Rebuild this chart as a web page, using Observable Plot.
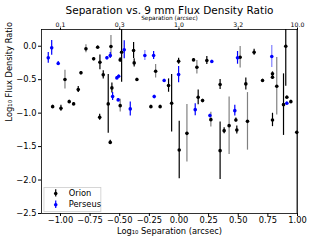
<!DOCTYPE html>
<html><head><meta charset="utf-8">
<script src="https://cdn.jsdelivr.net/npm/d3@7"></script>
<script src="https://cdn.jsdelivr.net/npm/@observablehq/plot@0.6"></script>
<style>body{margin:0;background:#fff}svg{display:block}</style>
</head><body><div id="chart"></div>
<script>
const orionX = [-1.066,-0.996,-0.962,-0.926,-0.889,-0.850,-0.827,-0.785,-0.720,-0.686,-0.669,-0.667,-0.639,-0.597,-0.574,-0.566,-0.496,-0.496,-0.484,-0.580,-0.383,-0.378,-0.355,-0.197,-0.237,-0.159,-0.088,-0.062,-0.003,0.002,0.067,0.123,0.151,0.162,0.199,0.235,0.347,0.269,0.347,0.516,0.634,0.789,0.789,0.825,0.901,0.705,0.564,0.910,0.944,0.882,0.480,0.381,0.423,0.488,0.578,0.789,0.994];
const orionY = [-0.903,-0.928,-0.498,-0.828,-0.862,-0.648,-0.398,-0.039,-0.189,-0.015,-1.063,-0.240,-0.428,-0.862,-0.004,-0.623,-0.888,-0.204,-0.090,-1.437,-0.064,-0.249,-0.498,-0.374,-0.903,-0.903,-0.588,-0.853,-0.225,-1.551,-1.302,-0.204,-0.314,-0.763,-0.813,-0.214,-0.573,-1.097,-1.561,-0.165,-0.090,-0.413,-0.464,-0.599,0.0,-0.513,-0.563,-0.763,-0.828,-0.873,-1.102,-1.262,-1.187,-1.251,-1.123,-1.102,-1.287];
const orionErr = [0.02,0.045,0.14,0.02,0.02,0.045,0.02,0.06,0.02,0.02,0.045,0.11,0.06,0.44,0.165,0.075,0.095,0.03,0.45,0.03,0.12,0.06,0.02,0.10,0.02,0.02,0.10,0.43,0.045,0.43,0.43,0.02,0.10,0.11,0.02,0.06,0.075,0.11,0.43,0.16,0.045,0.03,0.03,0.43,0.6,0.02,0.09,0.02,0.02,0.46,0.03,0.045,0.43,0.06,0.43,0.1,2.0];
const orionFaint = [0,0,1,0,0,0,0,1,0,0,0,0,0,0,1,0,1,0,0,0,0,0,0,1,0,0,0,0,0,0,1,0,1,0,0,0,0,1,0,1,0,0,0,1,0,0,0,0,0,0,0,0,1,0,1,0,1];
const perseusX = [-1.103,-1.074,-1.019,-0.608,-0.580,-0.524,-0.509,-0.560,-0.513,-0.462,-0.288,-0.214,-0.411,-0.125,-0.209,-0.003,0.277,0.137,0.261,0.494,0.783,0.471,0.910];
const perseusY = [-0.174,-0.024,-0.259,-0.174,-0.139,-0.473,-0.449,-0.753,-0.802,-0.054,-0.139,-0.139,-0.937,-0.513,-0.753,-0.424,-0.229,-0.948,-1.037,-0.174,-0.154,-0.963,-0.853];
const perseusErr = [0.08,0.11,0.03,0.02,0.045,0.02,0.02,0.06,0.02,0.135,0.075,0.06,0.105,0.02,0.02,0.12,0.02,0.09,0.02,0.095,0.165,0.08,0.02];
const perseusFaint = [0,0,0,0,0,0,0,0,0,0,1,0,0,0,0,0,0,0,0,0,1,0,0];
const topTicks = [-1,-0.5,0,0.5,1];
const bottomTicks = [-1,-0.75,-0.5,-0.25,0,0.25,0.5,0.75,1];
const yTicks = [0,-0.5,-1,-1.5,-2,-2.5];
const legendItems = ["Orion","Perseus"];

const rows = [];
orionX.forEach((x,i)=>rows.push({x, y:orionY[i], e:orionErr[i], f:orionFaint[i], s:"Orion"}));
perseusX.forEach((x,i)=>rows.push({x, y:perseusY[i], e:perseusErr[i], f:perseusFaint[i], s:"Perseus"}));
const col = {Orion:"#000000", Perseus:"#0000ff"};
const faintCol = {Orion:"#808080", Perseus:"#8080ff"};
const minus = s => s.replace("-", "\u2212");
const font = "DejaVu Sans, sans-serif";

const chart = Plot.plot({
  width: 330, height: 240,
  marginLeft: 41, marginRight: 33, marginTop: 29, marginBottom: 27,
  style: {fontFamily: font, background: "#fff", overflow: "visible"},
  x: {domain: [-1.16, 1.0]},
  y: {domain: [-2.5, 0.25]},
  marks: [
    Plot.ruleX(rows, {x:"x", y1:d=>d.y-d.e, y2:d=>d.y+d.e, stroke:d=>d.f?faintCol[d.s]:col[d.s], strokeWidth:1.2, clip:true}),
    Plot.dot(rows, {x:"x", y:"y", r:1.8, fill:d=>col[d.s], stroke:"none"}),
    Plot.frame({stroke:"#000", strokeWidth:0.8}),
    Plot.axisX({anchor:"bottom", ticks:bottomTicks, tickSize:3, tickPadding:1, fontSize:8.3, tickFormat:d=>minus(d3.format(".2f")(d)), label:null}),
    Plot.axisX({anchor:"top", ticks:topTicks, tickSize:2.5, tickPadding:0.5, fontSize:6.2, tickFormat:d=>Math.pow(10,d).toFixed(1), label:null}),
    Plot.axisY({anchor:"left", ticks:yTicks, tickSize:3, tickPadding:2, fontSize:8.3, tickFormat:d=>minus(d3.format(".1f")(d)), label:null}),
    Plot.text(["Separation vs. 9 mm Flux Density Ratio"], {frameAnchor:"top", dy:-22.5, fontSize:10.5, fill:"#000", text:d=>d}),
    Plot.text(["Separation (arcsec)"], {frameAnchor:"top", dy:-13.5, fontSize:5.8, fill:"#000", text:d=>d}),
    Plot.text(["Log\u2081\u2080 Separation (arcsec)"], {frameAnchor:"bottom", dy:20.5, fontSize:8.3, fill:"#000", text:d=>d}),
    Plot.text(["Log\u2081\u2080 Flux Density Ratio"], {frameAnchor:"left", dx:-32, rotate:-90, fontSize:8.3, fill:"#000", text:d=>d}),
    // legend
    Plot.rect([0], {x1:-1.135, x2:-0.655, y1:-2.48, y2:-2.12, fill:"#fff", fillOpacity:0.8, stroke:"#ccc", strokeWidth:0.8}),
    Plot.ruleX(legendItems, {x:-1.04, y1:(d,i)=>-2.2-i*0.17-0.055, y2:(d,i)=>-2.2-i*0.17+0.055, stroke:d=>col[d], strokeWidth:1.2}),
    Plot.dot(legendItems, {x:-1.04, y:(d,i)=>-2.2-i*0.17, r:1.8, fill:d=>col[d]}),
    Plot.text(legendItems, {x:-0.93, y:(d,i)=>-2.2-i*0.17, text:d=>d, textAnchor:"start", fontSize:8.3, fill:"#000"})
  ]
});
document.getElementById("chart").appendChild(chart);
</script></body></html>
